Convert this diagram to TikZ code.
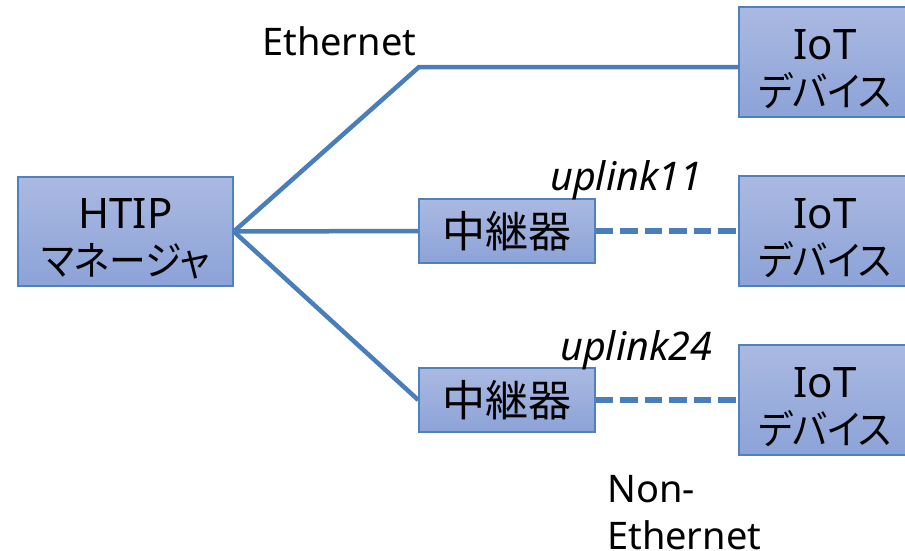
\documentclass[tikz,border=0pt]{standalone}
\usepackage{fontspec}
\setmainfont{Noto Sans}
\newfontfamily\jp{Noto Sans CJK JP}
\newfontfamily\kana[RawFeature=+palt,FakeStretch=0.92]{Noto Sans CJK JP}
\usetikzlibrary{shadings}
\definecolor{boxtop}{RGB}{170,185,225}
\definecolor{boxbot}{RGB}{140,163,216}
\definecolor{bordercol}{RGB}{79,129,189}
\definecolor{linecol}{RGB}{74,126,187}
\newcommand{\twoline}[2]{\rule{0pt}{47pt}#1\\{\kana\fontsize{40}{47}\selectfont #2}\rule[-6pt]{0pt}{1pt}}
\tikzset{
  box/.style={draw=bordercol, line width=1.5pt, top color=boxtop, bottom color=boxbot,
    inner sep=0pt, align=center, font=\fontsize{42}{47}\selectfont},
  link/.style={draw=linecol, line width=4.5pt},
  dlink/.style={link, line width=5.5pt, dash pattern=on 17.5pt off 7pt},
  lbl/.style={inner sep=0pt, font=\fontsize{38}{47}\selectfont},
  ilbl/.style={inner sep=0pt, font=\fontsize{39.5}{45}\selectfont\itshape}
}
\begin{document}
\begin{tikzpicture}[x=1pt,y=-1pt]
\useasboundingbox (0,0) rectangle (905,550);
% boxes
\node[box, minimum width=215pt, minimum height=109pt] (htip) at (125.5,231.5) {\twoline{HTIP}{マネージャ}};
\node[box, minimum width=176pt, minimum height=64pt] (r1) at (507,231) {\jp\fontsize{43}{47}\selectfont 中継器};
\node[box, minimum width=176pt, minimum height=64pt] (r2) at (507,400) {\jp\fontsize{43}{47}\selectfont 中継器};
\node[box, minimum width=172pt, minimum height=110pt] (d1) at (825,62) {\twoline{IoT}{デバイス}};
\node[box, minimum width=172pt, minimum height=110pt] (d2) at (825,231) {\twoline{IoT}{デバイス}};
\node[box, minimum width=172pt, minimum height=110pt] (d3) at (825,400) {\twoline{IoT}{デバイス}};
\coordinate (bend) at (419,67);
% connectors
\draw[link] (htip.east) -- (bend) -- (bend -| d1.west);
\draw[link] (htip.east) -- (r1.west);
\draw[link] (htip.east) -- (r2.west);
\draw[dlink] (r1.east) -- (d2.west);
\draw[dlink] (r2.east) -- (d3.west);
% labels
\node[lbl, anchor=base west] (eth) at (262,55) {Ethernet};
\node[ilbl, anchor=base west] (u11) at (550,190) {uplink11};
\node[ilbl, anchor=base west] (u24) at (560,360) {uplink24};
\node[lbl, anchor=north west, align=left] (neth) at (607,475) {Non-\\Ethernet};
\end{tikzpicture}
\end{document}
